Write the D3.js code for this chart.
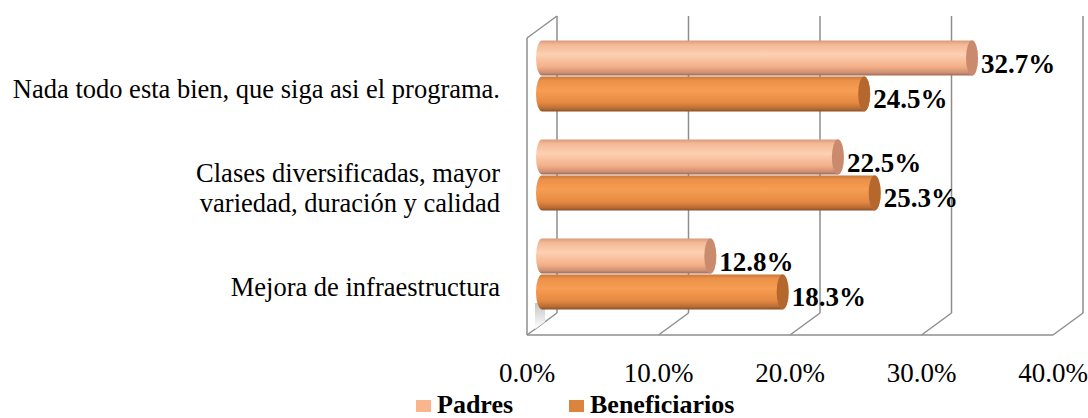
<!DOCTYPE html>
<html>
<head>
<meta charset="utf-8">
<script src="https://cdn.jsdelivr.net/npm/d3@7"></script>
<style>
  body { margin: 0; background: #fff; }
  svg { display: block; }
  svg text { font-family: "Liberation Serif", "Times New Roman", Tinos, "DejaVu Serif", serif; }
</style>
</head>
<body>
<div id="chart"></div>
<script>
var categories = [
  ["Nada todo esta bien, que siga asi el programa."],
  ["Clases diversificadas, mayor", "variedad, duración y calidad"],
  ["Mejora de infraestructura"]
];
var seriesNames = ["Padres", "Beneficiarios"];
var padres = [32.7, 22.5, 12.8];
var beneficiarios = [24.5, 25.3, 18.3];
var ticks = [0, 10, 20, 30, 40];

var width = 1088, height = 418,
    depthX = 30, depthY = -22,
    gridColor = "#8e8e8e";

var svg = d3.select("#chart").append("svg")
    .attr("width", width).attr("height", height);

// front plane scales
var x = d3.scaleLinear().domain([0, 40]).range([527, 1053]);
var yTop = 38, yBot = 335;

// middle depth plane, where the cylinders sit
var xMid = function(v) { return x(v) + depthX / 2; };
var band = d3.scaleBand().domain(d3.range(categories.length))
    .range([yTop + depthY / 2, yBot + depthY / 2])
    .paddingInner(0.273).paddingOuter(0.1365);
var inner = d3.scaleBand().domain([0, 1]).range([0, band.bandwidth()]);

var defs = svg.append("defs");
var grads = [
  ["gPadres", [["0", "#d99a7c"], ["0.12", "#f4b996"], ["0.4", "#fcd0b2"], ["0.75", "#f3b088"], ["0.92", "#cf8f72"], ["1", "#9c6a5c"]]],
  ["gBenef", [["0", "#c8783c"], ["0.12", "#ec9049"], ["0.4", "#f79d52"], ["0.75", "#e58942"], ["0.92", "#b86c33"], ["1", "#86502c"]]],
  ["gWall", [["0", "#c4c4c4"], ["1", "#ffffff"]]]
];
grads.forEach(function(g) {
  var lg = defs.append("linearGradient").attr("id", g[0])
      .attr("x1", 0).attr("y1", 0).attr("x2", 0).attr("y2", 1);
  g[1].forEach(function(s) {
    lg.append("stop").attr("offset", s[0]).attr("stop-color", s[1]);
  });
});

// grid: back wall verticals and floor diagonals
var grid = svg.append("g").attr("stroke", gridColor).attr("stroke-width", 1.5).attr("fill", "none");
grid.selectAll("line.back").data(ticks).enter().append("line")
    .attr("x1", function(d) { return x(d) + depthX; })
    .attr("x2", function(d) { return x(d) + depthX; })
    .attr("y1", yTop + depthY).attr("y2", yBot + depthY);
grid.selectAll("line.floor").data(ticks).enter().append("line")
    .attr("x1", function(d) { return x(d); })
    .attr("x2", function(d) { return x(d) + depthX; })
    .attr("y1", yBot).attr("y2", yBot + depthY);
grid.append("line").attr("x1", x(0)).attr("x2", x(40)).attr("y1", yBot).attr("y2", yBot);
grid.append("line").attr("x1", x(0)).attr("x2", x(0)).attr("y1", yTop).attr("y2", yBot);
grid.append("line").attr("x1", x(0)).attr("x2", x(0) + depthX).attr("y1", yTop).attr("y2", yTop + depthY);

// small shaded patch of the side wall under the last bar
svg.append("path")
    .attr("d", "M" + (x(0) + 8) + "," + (yBot - 32) + "H" + (x(0) + 18) +
         "V" + (yBot - 13) + "L" + (x(0) + 8) + "," + (yBot - 6) + "Z")
    .attr("fill", "url(#gWall)");

// cylinders
var rx = 6;
var bars = [];
categories.forEach(function(c, i) {
  bars.push({cat: i, s: 0, v: padres[i]});
  bars.push({cat: i, s: 1, v: beneficiarios[i]});
});

var cyl = svg.append("g").selectAll("g").data(bars).enter().append("g");
cyl.append("path")
    .attr("d", function(d) {
      var t = band(d.cat) + inner(d.s), b = t + inner.bandwidth() - 1,
          x0 = xMid(0), x1 = xMid(d.v), ry = (b - t) / 2;
      return "M" + x0 + "," + t + "L" + x1 + "," + t +
             "A" + rx + "," + ry + " 0 0 1 " + x1 + "," + b +
             "L" + x0 + "," + b +
             "A" + rx + "," + ry + " 0 0 1 " + x0 + "," + t + "Z";
    })
    .attr("fill", function(d) { return d.s === 0 ? "url(#gPadres)" : "url(#gBenef)"; });
cyl.append("ellipse")
    .attr("cx", function(d) { return xMid(d.v); })
    .attr("cy", function(d) { return band(d.cat) + inner(d.s) + (inner.bandwidth() - 1) / 2; })
    .attr("rx", rx)
    .attr("ry", (inner.bandwidth() - 1) / 2)
    .attr("fill", function(d) { return d.s === 0 ? "#c98a6e" : "#b5682e"; });

// value labels
svg.append("g").selectAll("text").data(bars).enter().append("text")
    .attr("x", function(d) { return xMid(d.v) + rx + 3; })
    .attr("y", function(d) { return band(d.cat) + inner(d.s) + inner.bandwidth() / 2 + 14; })
    .attr("font-size", 27).attr("font-weight", "bold")
    .attr("fill", "#000")
    .text(function(d) { return d.v.toFixed(1) + "%"; });

// category labels on the front plane
var frontBand = d3.scaleBand().domain(d3.range(categories.length)).range([yTop, yBot]);
var catText = svg.append("g").selectAll("text").data(categories).enter().append("text")
    .attr("text-anchor", "end")
    .attr("font-size", 26.5).attr("fill", "#000");
catText.each(function(lines, i) {
  var cy = frontBand(i) + frontBand.bandwidth() / 2 + 10, lh = 30;
  var t0 = cy - (lines.length - 1) * lh / 2;
  d3.select(this).selectAll("tspan").data(lines).enter().append("tspan")
      .attr("x", 500).attr("y", function(d, j) { return t0 + j * lh; })
      .text(function(d) { return d; });
});

// x axis labels
svg.append("g").selectAll("text").data(ticks).enter().append("text")
    .attr("x", function(d) { return x(d); }).attr("y", 382)
    .attr("text-anchor", "middle")
    .attr("font-size", 27).attr("fill", "#000")
    .text(function(d) { return d.toFixed(1) + "%"; });

// legend
var legendX = [416, 569], legendColors = ["#f9b58c", "#dc843e"];
var leg = svg.append("g").selectAll("g").data(seriesNames).enter().append("g")
    .attr("transform", function(d, i) { return "translate(" + legendX[i] + ",0)"; });
leg.append("rect").attr("x", 0).attr("y", 400).attr("width", 15).attr("height", 12)
    .attr("fill", function(d, i) { return legendColors[i]; });
leg.append("text").attr("x", 21).attr("y", 412.5)
    .attr("font-size", 26).attr("font-weight", "bold")
    .attr("fill", "#000")
    .text(function(d) { return d; });
</script>
</body>
</html>
